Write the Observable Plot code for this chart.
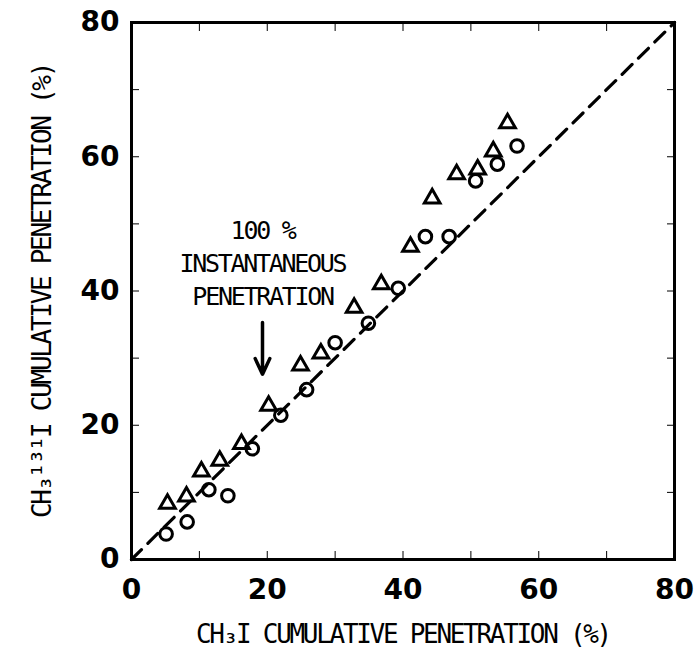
<!DOCTYPE html>
<html>
<head>
<meta charset="utf-8">
<script src="https://cdn.jsdelivr.net/npm/d3@7"></script>
<script src="https://cdn.jsdelivr.net/npm/@observablehq/plot@0.6"></script>
<style>
  html, body { margin: 0; padding: 0; background: #fff; }
</style>
</head>
<body>
<div id="chart"></div>
<script>
// Circles (open circles)
const circleX = [5.1, 8.2, 11.4, 14.2, 17.8, 22.0, 25.8, 30.0, 34.9, 39.3, 43.3, 46.8, 50.7, 53.9, 56.8];
const circleY = [3.8, 5.6, 10.4, 9.5, 16.5, 21.5, 25.3, 32.3, 35.2, 40.4, 48.1, 48.1, 56.4, 58.9, 61.6];
// Triangles (open triangles)
const triX = [5.3, 8.1, 10.3, 13.0, 16.2, 20.2, 24.9, 27.9, 32.8, 36.8, 41.1, 44.3, 47.9, 51.0, 53.3, 55.4];
const triY = [8.3, 9.4, 13.1, 14.7, 17.2, 22.9, 28.9, 30.7, 37.5, 41.0, 46.6, 53.8, 57.4, 58.1, 60.8, 65.0];
// 1:1 reference line
const diagonal = [0, 80];
// ticks
const majorTicks = [0, 20, 40, 60, 80];
const minorTicks = [0, 10, 20, 30, 40, 50, 60, 70, 80];
// texts
const xLabel = "CH₃I CUMULATIVE PENETRATION (%)";
const yLabel = "CH₃¹³¹I CUMULATIVE PENETRATION (%)";
const note = "100 %\nINSTANTANEOUS\nPENETRATION";
const noteAt = {x: 19.3, y: 44.4};
const arrowFrom = {x: 19.3, y: 35.3};
const arrowTo = {x: 19.3, y: 27.6};

const circles = circleX.map((x, i) => ({x, y: circleY[i]}));
const tris = triX.map((x, i) => ({x, y: triY[i]}));
const diag = diagonal.map(v => ({x: v, y: v}));

const labelFont = "'DejaVu Sans Mono', monospace";

const chart = Plot.plot({
  width: 697,
  height: 657,
  marginLeft: 131,
  marginRight: 23,
  marginTop: 22,
  marginBottom: 98,
  style: {background: "#fff", color: "#000"},
  x: {domain: [0, 80]},
  y: {domain: [0, 80]},
  marks: [
    Plot.frame({stroke: "#000", strokeWidth: 3}),
    // inward minor ticks on all four sides
    Plot.axisX({anchor: "bottom", ticks: minorTicks, tickSize: -8, tickWidth: 2.5, text: null, label: null}),
    Plot.axisX({anchor: "top", ticks: minorTicks, tickSize: -8, tickWidth: 2.5, text: null, label: null}),
    Plot.axisY({anchor: "left", ticks: minorTicks, tickSize: -8, tickWidth: 2.5, text: null, label: null}),
    Plot.axisY({anchor: "right", ticks: minorTicks, tickSize: -8, tickWidth: 2.5, text: null, label: null}),
    // tick labels
    Plot.axisX({anchor: "bottom", ticks: majorTicks, tickSize: 0, tickPadding: 20, label: null,
      fontSize: 28, fontWeight: "bold", fontFamily: "'DejaVu Sans', sans-serif"}),
    Plot.axisY({anchor: "left", ticks: majorTicks, tickSize: 0, tickPadding: 12, label: null,
      fontSize: 28, fontWeight: "bold", fontFamily: "'DejaVu Sans', sans-serif"}),
    // 1:1 dashed line
    Plot.line(diag, {x: "x", y: "y", stroke: "#000", strokeWidth: 3.2, strokeDasharray: "14,9"}),
    // data
    Plot.dot(circles, {x: "x", y: "y", symbol: "circle", r: 6.3, stroke: "#000", strokeWidth: 3, fill: "none"}),
    Plot.dot(tris, {x: "x", y: "y", symbol: "triangle", r: 5.8, stroke: "#000", strokeWidth: 3, fill: "none"}),
    // annotation
    Plot.text([note], {x: () => noteAt.x, y: () => noteAt.y, text: d => d, fontSize: 25, lineHeight: 1.33,
      fontFamily: labelFont, textAnchor: "middle", fill: "#000"}),
    Plot.arrow([0], {x1: () => arrowFrom.x, y1: () => arrowFrom.y, x2: () => arrowTo.x, y2: () => arrowTo.y,
      stroke: "#000", strokeWidth: 3.5, headLength: 16, headAngle: 50}),
    // axis titles
    Plot.text([xLabel], {frameAnchor: "bottom", dy: 83, text: d => d, fontSize: 26, textAnchor: "middle",
      fontFamily: labelFont, fill: "#000"}),
    Plot.text([yLabel], {frameAnchor: "left", dx: -89, rotate: -90, text: d => d, fontSize: 26, textAnchor: "middle",
      fontFamily: labelFont, fill: "#000"})
  ]
});

// narrow the typewriter-style lettering like the original
d3.select(chart).selectAll("g[aria-label='text'] text").attr("letter-spacing", "-2.3");

document.getElementById("chart").appendChild(chart);
</script>
</body>
</html>
